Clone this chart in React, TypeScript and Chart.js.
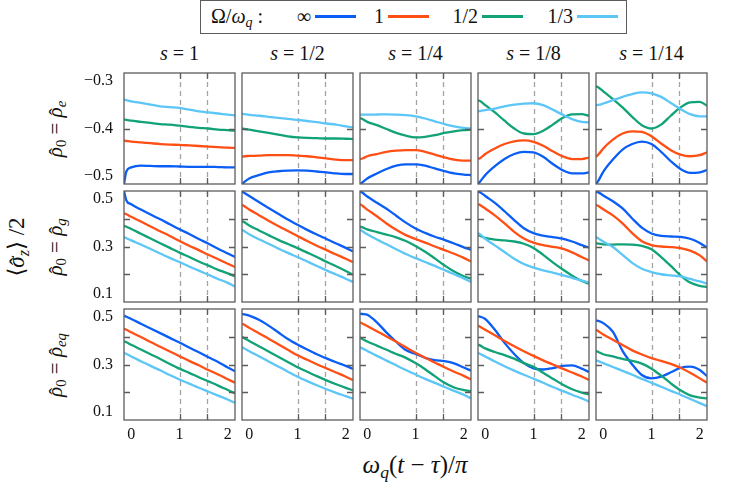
import { useEffect, useRef } from "react";
import { Chart, registerables } from "chart.js";

Chart.register(...registerables);

// ω_q(t − τ)/π sample points shared by every panel
const XS = [-0.15, -0.1, 0, 0.2, 0.4, 0.6, 0.8, 1.0, 1.2, 1.4, 1.6, 1.8, 2.0, 2.15];
const X_TICKS = [0, 1, 2];
const MARKERS = [1, Math.PI / 2];

const OMEGA_LABELS = ["∞", "1", "1/2", "1/3"];
const S_LABELS = ["1", "1/2", "1/4", "1/8", "1/14"];
const STATE_LABELS = ["e", "g", "eq"];
const COLORS = ["#0b5ef5", "#ff4f14", "#12a277", "#5cc6f7"];

const Y_MIN = [-0.5, 0.1, 0.1];
const Y_MAX = [-0.3, 0.5, 0.5];
const Y_LABELED = [[-0.5, -0.4, -0.3], [0.1, 0.3, 0.5], [0.1, 0.3, 0.5]];

// each panel: [Ω/ω_q = ∞, 1, 1/2, 1/3]
// ρ0 = ρe
const rhoE_s1 = [
  [-0.5, -0.477, -0.47, -0.467, -0.4675, -0.468, -0.468, -0.4685, -0.469, -0.469, -0.469, -0.4695, -0.47, -0.47],
  [-0.422, -0.4225, -0.4235, -0.425, -0.4265, -0.428, -0.429, -0.4295, -0.4305, -0.4315, -0.4325, -0.4335, -0.4345, -0.435],
  [-0.384, -0.3845, -0.386, -0.388, -0.39, -0.392, -0.393, -0.395, -0.397, -0.399, -0.4, -0.402, -0.403, -0.404],
  [-0.348, -0.349, -0.351, -0.354, -0.357, -0.36, -0.3615, -0.363, -0.366, -0.369, -0.371, -0.373, -0.375, -0.3765],
];
const rhoE_s2 = [
  [-0.5, -0.496, -0.49, -0.484, -0.479, -0.477, -0.476, -0.4755, -0.476, -0.4775, -0.479, -0.481, -0.482, -0.482],
  [-0.451, -0.45, -0.4495, -0.449, -0.448, -0.448, -0.448, -0.449, -0.45, -0.452, -0.454, -0.456, -0.457, -0.457],
  [-0.4, -0.4005, -0.402, -0.405, -0.408, -0.411, -0.414, -0.416, -0.417, -0.4175, -0.418, -0.418, -0.4185, -0.419],
  [-0.3735, -0.374, -0.3755, -0.377, -0.379, -0.381, -0.3825, -0.3845, -0.3865, -0.3885, -0.391, -0.393, -0.396, -0.398],
];
const rhoE_s4 = [
  [-0.5, -0.497, -0.49, -0.481, -0.473, -0.467, -0.4645, -0.4645, -0.467, -0.472, -0.477, -0.481, -0.483, -0.484],
  [-0.455, -0.454, -0.45, -0.446, -0.442, -0.44, -0.439, -0.439, -0.442, -0.447, -0.452, -0.456, -0.458, -0.458],
  [-0.381, -0.383, -0.388, -0.394, -0.401, -0.408, -0.413, -0.416, -0.415, -0.412, -0.408, -0.405, -0.403, -0.402],
  [-0.375, -0.375, -0.375, -0.3748, -0.3745, -0.375, -0.376, -0.378, -0.382, -0.387, -0.392, -0.396, -0.399, -0.4],
];
const rhoE_s8 = [
  [-0.5, -0.495, -0.484, -0.468, -0.455, -0.446, -0.442, -0.443, -0.451, -0.464, -0.475, -0.481, -0.481, -0.479],
  [-0.455, -0.453, -0.446, -0.436, -0.428, -0.423, -0.4215, -0.424, -0.431, -0.441, -0.45, -0.455, -0.455, -0.4525],
  [-0.349, -0.351, -0.358, -0.371, -0.386, -0.4, -0.409, -0.41, -0.404, -0.393, -0.381, -0.3745, -0.374, -0.377],
  [-0.369, -0.3685, -0.367, -0.364, -0.36, -0.357, -0.355, -0.3545, -0.358, -0.366, -0.375, -0.383, -0.388, -0.389],
];
const rhoE_s14 = [
  [-0.5, -0.494, -0.478, -0.456, -0.438, -0.428, -0.4235, -0.428, -0.442, -0.459, -0.473, -0.48, -0.479, -0.475],
  [-0.451, -0.447, -0.436, -0.42, -0.409, -0.405, -0.406, -0.414, -0.427, -0.439, -0.447, -0.45, -0.448, -0.443],
  [-0.324, -0.326, -0.333, -0.347, -0.362, -0.379, -0.394, -0.4, -0.393, -0.377, -0.362, -0.353, -0.352, -0.359],
  [-0.358, -0.3575, -0.355, -0.349, -0.343, -0.338, -0.335, -0.3365, -0.343, -0.354, -0.365, -0.374, -0.378, -0.378],
];

// ρ0 = ρg
const rhoG_s1 = [
  [0.5, 0.466, 0.452, 0.433, 0.415, 0.398, 0.38, 0.362, 0.345, 0.327, 0.31, 0.292, 0.275, 0.262],
  [0.42, 0.416, 0.407, 0.39, 0.372, 0.355, 0.338, 0.32, 0.303, 0.287, 0.27, 0.254, 0.238, 0.226],
  [0.375, 0.371, 0.363, 0.346, 0.329, 0.312, 0.295, 0.278, 0.262, 0.246, 0.231, 0.216, 0.203, 0.192],
  [0.334, 0.33, 0.322, 0.307, 0.291, 0.275, 0.259, 0.244, 0.228, 0.213, 0.198, 0.183, 0.169, 0.156],
];
const rhoG_s2 = [
  [0.498, 0.493, 0.482, 0.46, 0.439, 0.418, 0.397, 0.378, 0.36, 0.343, 0.327, 0.311, 0.295, 0.282],
  [0.45, 0.445, 0.433, 0.413, 0.393, 0.374, 0.356, 0.338, 0.32, 0.303, 0.287, 0.271, 0.256, 0.244],
  [0.392, 0.387, 0.376, 0.358, 0.341, 0.324, 0.309, 0.294, 0.278, 0.262, 0.245, 0.229, 0.212, 0.198],
  [0.36, 0.355, 0.344, 0.326, 0.31, 0.293, 0.277, 0.262, 0.246, 0.23, 0.214, 0.199, 0.184, 0.172],
];
const rhoG_s4 = [
  [0.498, 0.494, 0.48, 0.458, 0.436, 0.411, 0.386, 0.365, 0.349, 0.335, 0.324, 0.311, 0.297, 0.288],
  [0.453, 0.447, 0.433, 0.409, 0.383, 0.36, 0.341, 0.327, 0.314, 0.3, 0.287, 0.274, 0.259, 0.246],
  [0.372, 0.369, 0.362, 0.352, 0.343, 0.333, 0.32, 0.302, 0.281, 0.257, 0.232, 0.21, 0.193, 0.184],
  [0.36, 0.355, 0.344, 0.325, 0.308, 0.29, 0.273, 0.258, 0.244, 0.23, 0.215, 0.2, 0.185, 0.172],
];
const rhoG_s8 = [
  [0.498, 0.495, 0.482, 0.457, 0.427, 0.395, 0.366, 0.348, 0.339, 0.334, 0.328, 0.318, 0.305, 0.296],
  [0.453, 0.449, 0.437, 0.412, 0.383, 0.353, 0.329, 0.314, 0.305, 0.299, 0.292, 0.279, 0.262, 0.25],
  [0.342, 0.338, 0.331, 0.325, 0.322, 0.318, 0.31, 0.295, 0.27, 0.243, 0.218, 0.195, 0.176, 0.166],
  [0.348, 0.343, 0.328, 0.304, 0.28, 0.256, 0.237, 0.224, 0.214, 0.206, 0.197, 0.187, 0.177, 0.171],
];
const rhoG_s14 = [
  [0.498, 0.495, 0.484, 0.463, 0.437, 0.401, 0.368, 0.347, 0.338, 0.336, 0.335, 0.328, 0.313, 0.296],
  [0.45, 0.446, 0.434, 0.412, 0.383, 0.348, 0.319, 0.305, 0.3, 0.298, 0.294, 0.285, 0.268, 0.246],
  [0.312, 0.31, 0.308, 0.307, 0.308, 0.307, 0.302, 0.29, 0.262, 0.23, 0.196, 0.17, 0.158, 0.154],
  [0.334, 0.329, 0.318, 0.298, 0.27, 0.241, 0.22, 0.208, 0.2, 0.196, 0.192, 0.183, 0.174, 0.166],
];

// ρ0 = ρeq
const rhoEq_s1 = [
  [0.476, 0.472, 0.464, 0.447, 0.43, 0.413, 0.396, 0.379, 0.361, 0.344, 0.326, 0.309, 0.289, 0.276],
  [0.429, 0.425, 0.416, 0.399, 0.381, 0.364, 0.347, 0.33, 0.313, 0.297, 0.28, 0.264, 0.247, 0.234],
  [0.384, 0.38, 0.371, 0.354, 0.337, 0.32, 0.302, 0.285, 0.27, 0.254, 0.239, 0.224, 0.208, 0.196],
  [0.342, 0.338, 0.329, 0.312, 0.295, 0.279, 0.262, 0.246, 0.231, 0.216, 0.202, 0.188, 0.174, 0.162],
];
const rhoEq_s2 = [
  [0.482, 0.481, 0.476, 0.461, 0.44, 0.416, 0.392, 0.372, 0.354, 0.337, 0.322, 0.308, 0.295, 0.284],
  [0.447, 0.443, 0.432, 0.413, 0.393, 0.373, 0.353, 0.333, 0.317, 0.301, 0.286, 0.271, 0.256, 0.244],
  [0.399, 0.395, 0.385, 0.366, 0.347, 0.328, 0.309, 0.29, 0.274, 0.258, 0.243, 0.229, 0.216, 0.207],
  [0.362, 0.358, 0.348, 0.33, 0.311, 0.293, 0.274, 0.256, 0.24, 0.225, 0.211, 0.198, 0.186, 0.177],
];
const rhoEq_s4 = [
  [0.483, 0.482, 0.479, 0.452, 0.415, 0.382, 0.352, 0.338, 0.324, 0.316, 0.312, 0.304, 0.289, 0.278],
  [0.452, 0.448, 0.439, 0.42, 0.401, 0.382, 0.362, 0.342, 0.324, 0.307, 0.29, 0.274, 0.259, 0.246],
  [0.396, 0.392, 0.383, 0.368, 0.353, 0.338, 0.324, 0.305, 0.283, 0.258, 0.234, 0.217, 0.208, 0.204],
  [0.362, 0.358, 0.349, 0.331, 0.314, 0.297, 0.28, 0.264, 0.248, 0.234, 0.219, 0.205, 0.191, 0.178],
];
const rhoEq_s8 = [
  [0.474, 0.472, 0.464, 0.425, 0.378, 0.338, 0.305, 0.286, 0.282, 0.287, 0.295, 0.297, 0.285, 0.273],
  [0.44, 0.435, 0.425, 0.405, 0.385, 0.366, 0.348, 0.331, 0.315, 0.3, 0.285, 0.271, 0.257, 0.244],
  [0.372, 0.368, 0.358, 0.345, 0.334, 0.321, 0.305, 0.292, 0.27, 0.249, 0.228, 0.211, 0.199, 0.192],
  [0.342, 0.338, 0.329, 0.311, 0.294, 0.278, 0.263, 0.249, 0.234, 0.219, 0.205, 0.191, 0.178, 0.166],
];
const rhoEq_s14 = [
  [0.459, 0.457, 0.449, 0.418, 0.349, 0.3, 0.262, 0.25, 0.256, 0.272, 0.288, 0.292, 0.28, 0.258],
  [0.426, 0.42, 0.408, 0.389, 0.37, 0.351, 0.336, 0.323, 0.313, 0.302, 0.288, 0.27, 0.25, 0.234],
  [0.348, 0.345, 0.337, 0.329, 0.32, 0.313, 0.303, 0.285, 0.26, 0.232, 0.207, 0.189, 0.181, 0.178],
  [0.316, 0.312, 0.305, 0.291, 0.277, 0.263, 0.248, 0.234, 0.22, 0.205, 0.191, 0.176, 0.161, 0.15],
];

const PANELS = [
  [rhoE_s1, rhoE_s2, rhoE_s4, rhoE_s8, rhoE_s14],
  [rhoG_s1, rhoG_s2, rhoG_s4, rhoG_s8, rhoG_s14],
  [rhoEq_s1, rhoEq_s2, rhoEq_s4, rhoEq_s8, rhoEq_s14],
];

const SERIF = '"Liberation Serif", "Times New Roman", "DejaVu Serif", serif';
const LEFT0 = 124;
const TOP0 = 73;
const PITCH = 118;
const SIZE = 111;
const FRAME = "#5c5c5c";

const fmt = (v: number) => (v < 0 ? "\u2212" : "") + Math.abs(v).toFixed(1);

const panelFrame = {
  id: "panelFrame",
  beforeDatasetsDraw(chart: any) {
    const { ctx, chartArea: a, scales } = chart;
    ctx.save();
    ctx.strokeStyle = "#a3a3a3";
    ctx.lineWidth = 1.3;
    ctx.setLineDash([5, 4]);
    MARKERS.forEach((m) => {
      const px = Math.round(scales.x.getPixelForValue(m)) + 0.5;
      ctx.beginPath();
      ctx.moveTo(px, a.top);
      ctx.lineTo(px, a.bottom);
      ctx.stroke();
    });
    ctx.restore();
  },
  afterDatasetsDraw(chart: any) {
    const { ctx, chartArea: a, scales } = chart;
    ctx.save();
    ctx.strokeStyle = FRAME;
    ctx.lineWidth = 1.3;
    const len = 6;
    scales.y.ticks.forEach((t: any) => {
      const py = Math.round(scales.y.getPixelForValue(t.value)) + 0.5;
      if (py < a.top + 2 || py > a.bottom - 2) return;
      ctx.beginPath();
      ctx.moveTo(a.left, py);
      ctx.lineTo(a.left + len, py);
      ctx.moveTo(a.right, py);
      ctx.lineTo(a.right - len, py);
      ctx.stroke();
    });
    MARKERS.forEach((m) => {
      const px = Math.round(scales.x.getPixelForValue(m)) + 0.5;
      ctx.beginPath();
      ctx.moveTo(px, a.top);
      ctx.lineTo(px, a.top + len);
      ctx.moveTo(px, a.bottom);
      ctx.lineTo(px, a.bottom - len);
      ctx.stroke();
    });
    ctx.strokeRect(a.left, a.top, a.right - a.left, a.bottom - a.top);
    ctx.restore();
  },
  afterDraw(chart: any, _args: any, opts: any) {
    if (!opts.showY) return;
    const { ctx, chartArea: a, scales } = chart;
    ctx.save();
    ctx.fillStyle = "#111";
    ctx.font = `16px ${SERIF}`;
    ctx.textAlign = "right";
    ctx.textBaseline = "middle";
    scales.y.ticks.forEach((t: any) => {
      if (!t.label) return;
      const py = Math.min(Math.max(scales.y.getPixelForValue(t.value), a.top + 8), a.bottom - 8);
      ctx.fillText(t.label, a.left - 11, py);
    });
    ctx.restore();
  },
};

function Panel({ row, col }: { row: number; col: number }) {
  const ref = useRef<HTMLCanvasElement>(null);
  const padL = col === 0 ? 60 : 4;
  const padB = row === 2 ? 26 : 4;
  const padT = 4;
  const padR = 4;

  useEffect(() => {
    if (!ref.current) return;
    const ctx = ref.current.getContext("2d");
    if (!ctx) return;
    const series = PANELS[row][col];

    const chart = new Chart(ctx, {
      type: "line",
      data: {
        datasets: series.map((ys, i) => ({
          label: OMEGA_LABELS[i],
          data: XS.map((x, j) => ({ x, y: ys[j] })),
          borderColor: COLORS[i],
          borderWidth: 2.3,
          pointRadius: 0,
          fill: false,
          cubicInterpolationMode: "monotone" as const,
          order: 3 - i,
        })),
      },
      options: {
        animation: false,
        responsive: false,
        events: [],
        layout: { padding: { top: padT, right: padR, left: 0, bottom: 0 } },
        plugins: {
          legend: { display: false },
          tooltip: { enabled: false },
          panelFrame: { showY: col === 0 },
        } as any,
        scales: {
          x: {
            type: "linear",
            min: XS[0],
            max: XS[XS.length - 1],
            grid: { display: false, drawTicks: false },
            border: { display: false },
            afterBuildTicks: (s: any) => {
              s.ticks = X_TICKS.map((v) => ({ value: v }));
            },
            afterFit: (s: any) => {
              s.height = padB;
            },
            ticks: {
              display: row === 2,
              padding: 5,
              color: "#111",
              maxRotation: 0,
              autoSkip: false,
              font: { family: SERIF, size: 16 },
              callback: (v: any) => String(v),
            },
          },
          y: {
            type: "linear",
            min: Y_MIN[row],
            max: Y_MAX[row],
            grid: { display: false, drawTicks: false },
            border: { display: false },
            afterFit: (s: any) => {
              s.width = padL;
            },
            ticks: {
              display: false,
              stepSize: 0.1,
              callback: (v: any) =>
                Y_LABELED[row].some((t) => Math.abs(t - v) < 1e-6) ? fmt(v) : "",
            },
          },
        },
      },
      plugins: [panelFrame],
    });

    return () => chart.destroy();
  }, [row, col]);

  return (
    <canvas
      ref={ref}
      width={padL + SIZE + padR}
      height={padT + SIZE + padB}
      style={{
        position: "absolute",
        left: LEFT0 + col * PITCH - padL,
        top: TOP0 + row * PITCH - padT,
        width: padL + SIZE + padR,
        height: padT + SIZE + padB,
      }}
    />
  );
}

const subStyle = { fontSize: "0.7em", verticalAlign: "-0.3em", lineHeight: 0 };
const LEGEND_LINES = [315, 388, 482, 577];

// italic letter with a circumflex placed over it
function Hat({ ch }: { ch: string }) {
  return (
    <span style={{ position: "relative", display: "inline-block" }}>
      <i>{ch}</i>
      <span style={{ position: "absolute", left: "0.1em", top: "0.1em", fontStyle: "normal" }}>
        {"\u02C6"}
      </span>
    </span>
  );
}

function Legend() {
  return (
    <>
      <div
        style={{
          position: "absolute",
          left: 200,
          top: 0,
          width: 427,
          height: 34,
          border: `1.4px solid ${FRAME}`,
          boxSizing: "border-box",
        }}
      />
      <div style={{ position: "absolute", left: 211, top: 3, fontSize: 20, lineHeight: "26px", whiteSpace: "nowrap" }}>
        Ω/<i>ω</i>
        <sub style={subStyle}>
          <i>q</i>
        </sub>
        {" "}:
      </div>
      {OMEGA_LABELS.map((lab, i) => (
        <div key={lab}>
          <div
            style={{
              position: "absolute",
              left: LEGEND_LINES[i] - 64,
              width: 60,
              top: 3,
              textAlign: "right",
              fontSize: 20,
              lineHeight: "26px",
            }}
          >
            {lab}
          </div>
          <div
            style={{
              position: "absolute",
              left: LEGEND_LINES[i],
              top: 15,
              width: 41,
              height: 2.5,
              background: COLORS[i],
            }}
          />
        </div>
      ))}
    </>
  );
}

export default function App() {
  return (
    <div
      style={{
        position: "absolute",
        left: 0,
        top: 0,
        width: 756,
        height: 484,
        background: "#fff",
        color: "#111",
        fontFamily: SERIF,
        overflow: "hidden",
      }}
    >
      <Legend />
      {S_LABELS.map((s, c) => (
        <div
          key={s}
          style={{
            position: "absolute",
            left: LEFT0 + c * PITCH,
            width: SIZE,
            top: 40,
            textAlign: "center",
            fontSize: 20,
            lineHeight: "26px",
            whiteSpace: "nowrap",
          }}
        >
          <i>s</i> = {s}
        </div>
      ))}
      {STATE_LABELS.map((st, r) => (
        <div
          key={st}
          style={{
            position: "absolute",
            left: 55 - 70,
            width: 140,
            top: TOP0 + r * PITCH + SIZE / 2 - 13,
            height: 26,
            lineHeight: "26px",
            textAlign: "center",
            fontSize: 21,
            transform: "rotate(-90deg)",
            whiteSpace: "nowrap",
          }}
        >
          <Hat ch={"\u03C1"} />
          <sub style={subStyle}>0</sub> = <Hat ch={"\u03C1"} />
          <sub style={subStyle}>
            <i>{st}</i>
          </sub>
        </div>
      ))}
      <div
        style={{
          position: "absolute",
          left: 17 - 70,
          width: 140,
          top: 247 - 15,
          height: 30,
          lineHeight: "30px",
          textAlign: "center",
          fontSize: 23,
          transform: "rotate(-90deg)",
          whiteSpace: "nowrap",
        }}
      >
        {"\u27E8"}
        <Hat ch={"\u03C3"} />
        <sub style={subStyle}>
          <i>z</i>
        </sub>
        {"\u27E9"} /2
      </div>
      <div
        style={{
          position: "absolute",
          left: 415 - 100,
          width: 200,
          top: 465 - 15,
          height: 30,
          lineHeight: "30px",
          textAlign: "center",
          fontSize: 25,
          whiteSpace: "nowrap",
        }}
      >
        <i>ω</i>
        <sub style={subStyle}>
          <i>q</i>
        </sub>
        (<i>t</i> − <i>τ</i>)/<i>π</i>
      </div>
      {PANELS.map((rowPanels, r) =>
        rowPanels.map((_, c) => <Panel key={`${r}-${c}`} row={r} col={c} />)
      )}
    </div>
  );
}
